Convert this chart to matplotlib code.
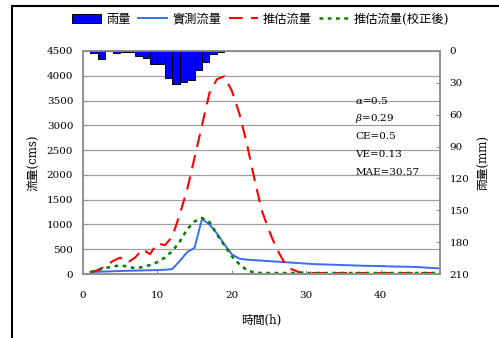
import matplotlib
matplotlib.use("Agg")
import matplotlib.pyplot as plt
from matplotlib.patches import Rectangle
import numpy as np

plt.rcParams['font.family'] = ['DejaVu Serif', 'Noto Sans CJK TC']
plt.rcParams['font.size'] = 8
plt.rcParams['mathtext.fontset'] = 'dejavuserif'

# hourly rainfall (mm)
rain_hours = list(range(1, 19))
rain = [2, 8, 0, 2, 1, 1, 5, 7, 12, 12, 25, 31, 29, 27, 18, 10, 3, 0.5]

# hourly discharge (cms)
hours = list(range(1, 49))
observed = [40, 45, 50, 55, 60, 65, 68, 72, 75, 80, 85, 100, 260, 440, 530, 1110,
            1000, 820, 600, 400, 310, 290, 280, 270, 260, 250, 240, 230, 220, 210,
            200, 195, 190, 185, 180, 175, 170, 165, 162, 160, 155, 150, 148, 145,
            140, 130, 120, 115]
estimated = [30, 80, 160, 260, 330, 230, 330, 500, 400, 620, 580, 750, 1200, 1700,
             2350, 3000, 3650, 3930, 3990, 3700, 3250, 2650, 1950, 1300, 880, 520,
             250, 100, 40] + [20] * 19
corrected = [40, 80, 120, 150, 175, 150, 115, 140, 180, 240, 330, 460, 650, 900,
             1060, 1130, 1050, 800, 580, 360, 200, 80, 30] + [20] * 25

stats = ["$\\alpha$=0.5", "$\\beta$=0.29", "CE=0.5", "VE=0.13", "MAE=30.57"]

fig = plt.figure(figsize=(4.99, 3.38), dpi=100)
ax = fig.add_axes([83 / 499, 64 / 338, 357 / 499, 223 / 338])

ax.plot(hours, observed, color='#3a6cf5', lw=1.4, label='實測流量')
ax.plot(hours, estimated, color='red', lw=1.5, dashes=(6.5, 4), label='推估流量')
ax.plot(hours, corrected, color='#008000', lw=1.8, dashes=(1.5, 1.8), label='推估流量(校正後)')

ax.set_xlim(0, 48)
ax.set_ylim(0, 4500)
ax.set_xticks([0, 10, 20, 30, 40])
ax.set_yticks(np.arange(0, 4501, 500))
ax.yaxis.grid(True, color='#a0a0a0', lw=0.9)
ax.set_axisbelow(True)
ax.tick_params(direction='in', length=3, color='#909090', labelsize=7.5)
ax.tick_params(axis='y', pad=7)
ax.tick_params(axis='x', pad=12)
for s in ax.spines.values():
    s.set_color('#909090')
    s.set_linewidth(1.2)
ax.set_xlabel('時間(h)', fontsize=8.5)
ax.xaxis.set_label_coords(0.5, -0.178)
ax.set_ylabel('流量(cms)', fontsize=8.5)
ax.yaxis.set_label_coords(-0.118, 0.5)

ax2 = ax.twinx()
ax2.bar(rain_hours, rain, width=1, align='edge', color='#0000ff',
        edgecolor='black', lw=0.7, label='雨量')
ax2.set_ylim(210, 0)
ax2.set_yticks(np.arange(0, 211, 30))
ax2.tick_params(direction='in', length=3, color='#909090', labelsize=7.5, pad=7)
for s in ax2.spines.values():
    s.set_color('#909090')
    s.set_linewidth(1.2)
ax2.set_ylabel('雨量(mm)', fontsize=8.5, rotation=90)
ax2.yaxis.set_label_coords(1.104, 0.5)

for i, t in enumerate(stats):
    ax.text(0.763, 0.78 - i * 0.081, t, transform=ax.transAxes, fontsize=7.5,
            va='center', ha='left')

h1, l1 = ax.get_legend_handles_labels()
h2, l2 = ax2.get_legend_handles_labels()
fig.legend(h2 + h1, l2 + l1, ncol=4, loc='center', bbox_to_anchor=(0.522, 1 - 19 / 338),
           frameon=False, fontsize=8.8, handlelength=2.4, handleheight=0.8,
           handletextpad=0.4, columnspacing=0.6)

fig.patches.append(Rectangle((12 / 499, -0.1), 1.2, 1.1 - 6 / 338, transform=fig.transFigure,
                             fill=False, edgecolor='black', lw=1.5))

fig.savefig('out.png', dpi=100)
